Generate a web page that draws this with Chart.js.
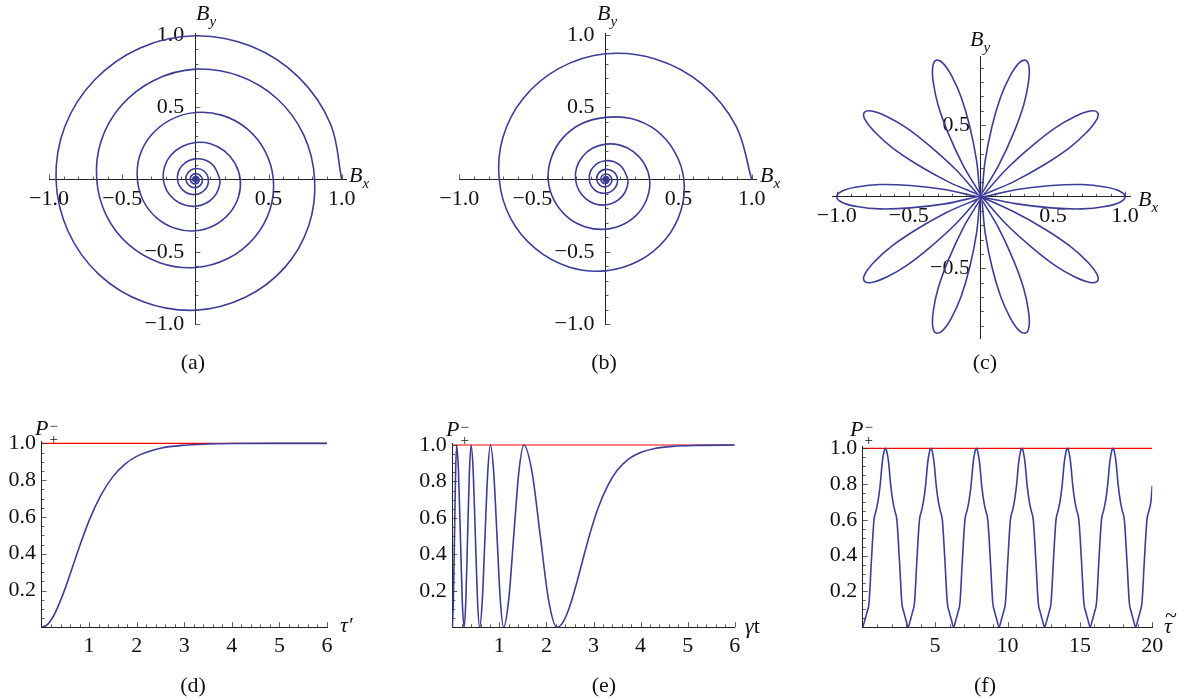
<!DOCTYPE html>
<html>
<head>
<meta charset="utf-8">
<script src="https://cdn.jsdelivr.net/npm/chart.js@4.4.0/dist/chart.umd.min.js"></script>
<style>
  body { margin: 0; background: #fff; }
  #fig { position: relative; width: 1190px; height: 700px; overflow: hidden;
         font-family: 'Liberation Serif', 'Times New Roman', serif; color: #111; }
  canvas { position: absolute; }
  .lbl { position: absolute; font-size: 22px; line-height: 22px; white-space: nowrap; }
  .it { font-style: italic; }
  .sub { font-size: 15px; position: relative; top: 6px; }
  .ss { display: inline-block; font-style: normal; font-size: 15px; line-height: 13px;
        vertical-align: -9px; margin-left: 1px; text-align: center; }
  .ss span { display: block; }
  .tl { position: relative; }
  .tl span { position: absolute; left: 1px; top: -9px; font-style: normal; }
  .cap { position: absolute; width: 80px; text-align: center; font-size: 22px; line-height: 22px; }
</style>
</head>
<body>
<div id="fig">
  <canvas id="ca" width="400" height="350" style="left:0;top:0"></canvas>
  <canvas id="cb" width="385" height="350" style="left:405px;top:0"></canvas>
  <canvas id="cc" width="400" height="370" style="left:790px;top:0"></canvas>
  <canvas id="cd" width="400" height="300" style="left:0;top:400px"></canvas>
  <canvas id="ce" width="400" height="300" style="left:400px;top:400px"></canvas>
  <canvas id="cf" width="390" height="300" style="left:800px;top:400px"></canvas>

  <div class="lbl it" style="left:196px;top:2px">B<span class="sub">y</span></div>
  <div class="lbl it" style="left:349px;top:164px">B<span class="sub">x</span></div>
  <div class="lbl it" style="left:597px;top:2px">B<span class="sub">y</span></div>
  <div class="lbl it" style="left:760px;top:164px">B<span class="sub">x</span></div>
  <div class="lbl it" style="left:970px;top:28px">B<span class="sub">y</span></div>
  <div class="lbl it" style="left:1138px;top:188px">B<span class="sub">x</span></div>

  <div class="lbl it" style="left:35px;top:417px">P<span class="ss"><span>&minus;</span><span>+</span></span></div>
  <div class="lbl it" style="left:446px;top:418px">P<span class="ss"><span>&minus;</span><span>+</span></span></div>
  <div class="lbl it" style="left:850px;top:418px">P<span class="ss"><span>&minus;</span><span>+</span></span></div>

  <div class="lbl it" style="left:340px;top:614px">&tau;&prime;</div>
  <div class="lbl" style="left:745px;top:615px"><span class="it">&gamma;</span>t</div>
  <div class="lbl it" style="left:1164px;top:615px"><span class="tl">&tau;<span>~</span></span></div>

  <div class="cap" style="left:153px;top:351px">(a)</div>
  <div class="cap" style="left:564px;top:351px">(b)</div>
  <div class="cap" style="left:945px;top:351px">(c)</div>
  <div class="cap" style="left:153px;top:674px">(d)</div>
  <div class="cap" style="left:564px;top:674px">(e)</div>
  <div class="cap" style="left:945px;top:674px">(f)</div>
</div>

<script>
// ---- data ----

// (a) spiral: every 22.5 deg for the outer turns, every 45 deg further in
const spiralA = [
  [1.0,0],[0.924,0.383],[0.707,0.707],[0.382,0.922],[0,0.995],[-0.377,0.911],[-0.689,0.689],[-0.891,0.369],
  [-0.952,0],[-0.869,-0.360],[-0.658,-0.658],[-0.351,-0.848],[0,-0.905],[0.338,-0.817],[0.610,-0.610],[0.774,-0.321],
  [0.815,0],[0.741,0.307],[0.559,0.559],[0.297,0.718],[0,0.764],[-0.284,0.686],[-0.509,0.509],[-0.644,0.267],
  [-0.674,0],[-0.607,-0.251],[-0.453,-0.453],[-0.239,-0.577],[0,-0.609],[0.226,-0.545],[0.403,-0.403],[0.509,-0.211],
  [0.533,0],[0.476,0.197],[0.352,0.352],[0.184,0.444],[0,0.464],[-0.171,0.413],[-0.304,0.304],[-0.382,0.158],
  [-0.396,0],[-0.356,-0.147],[-0.265,-0.265],[-0.140,-0.337],[0,-0.355],[0.131,-0.316],[0.233,-0.233],[0.294,-0.122],
  [0.307,0],[0.271,0.112],[0.198,0.198],[0.103,0.248],[0,0.256],[-0.094,0.227],[-0.168,0.168],[-0.211,0.087],
  [-0.219,0],[-0.193,-0.080],[-0.141,-0.141],[-0.073,-0.177],[0,-0.185],[0.069,-0.166],[0.124,-0.124],[0.158,-0.065],
  [0.167,0],[0.110,0.110],[0,0.143],[-0.093,0.093],[-0.122,0],[-0.079,-0.079],[0,-0.104],[0.068,-0.068],
  [0.089,0],[0.059,0.059],[0,0.076],[-0.049,0.049],[-0.065,0],[-0.042,-0.042],[0,-0.056],[0.037,-0.037],
  [0.048,0],[0.031,0.031],[0,0.041],[-0.027,0.027],[-0.035,0],[-0.023,-0.023],[0,-0.030],[0.020,-0.020],
  [0.026,0],[0.017,0.017],[0,0.022],[-0.014,0.014],[-0.019,0],[-0.012,-0.012],[0,-0.016],[0.011,-0.011],
  [0.014,0],[0.009,0.009],[0,0.012],[-0.008,0.008],[-0.010,0],[-0.006,-0.006],[0,-0.008],[0.005,-0.005],
  [0.006,0]
];

// (b) spiral
const spiralB = [
  [1.0,0],[0.893,0.370],[0.661,0.661],[0.345,0.833],[0,0.87],[-0.318,0.769],[-0.562,0.562],[-0.702,0.291],
  [-0.727,0],[-0.649,-0.269],[-0.479,-0.479],[-0.251,-0.605],[0,-0.632],[0.232,-0.561],[0.412,-0.412],[0.516,-0.214],
  [0.536,0],[0.471,0.195],[0.343,0.343],[0.175,0.422],[0,0.43],[-0.161,0.388],[-0.290,0.290],[-0.370,0.153],
  [-0.392,0],[-0.351,-0.145],[-0.260,-0.260],[-0.136,-0.328],[0,-0.344],[0.127,-0.308],[0.228,-0.228],[0.288,-0.119],
  [0.302,0],[0.265,0.110],[0.192,0.192],[0.099,0.238],[0,0.245],[-0.090,0.216],[-0.158,0.158],[-0.198,0.082],
  [-0.205,0],[-0.182,-0.075],[-0.134,-0.134],[-0.070,-0.169],[0,-0.176],[0.065,-0.156],[0.115,-0.115],[0.145,-0.060],
  [0.152,0],[0.099,0.099],[0,0.13],[-0.085,0.085],[-0.111,0],[-0.073,-0.073],[0,-0.095],[0.062,-0.062],
  [0.082,0],[0.054,0.054],[0,0.070],[-0.046,0.046],[-0.060,0],[-0.039,-0.039],[0,-0.051],[0.033,-0.033],
  [0.044,0],[0.029,0.029],[0,0.038],[-0.025,0.025],[-0.032,0],[-0.021,-0.021],[0,-0.028],[0.018,-0.018],
  [0.024,0],[0.016,0.016],[0,0.020],[-0.013,0.013],[-0.017,0],[-0.011,-0.011],[0,-0.015],[0.010,-0.010],
  [0.013,0],[0.008,0.008],[0,0.011],[-0.007,0.007],[-0.009,0],[-0.006,-0.006],[0,-0.0075],[0.005,-0.005],
  [0.0065,0]
];

// (c) ten-petal rose, traced petal by petal through the origin
const rose = [
  [0,0],
  [0.25,-0.05],[0.49,-0.078],[0.70,-0.085],[0.86,-0.068],[0.965,-0.038],[1.0,0],
  [0.965,0.038],[0.86,0.068],[0.70,0.085],[0.49,0.078],[0.25,0.05],
  [0,0],
  [0.232,0.107],[0.442,0.225],[0.616,0.343],[0.736,0.451],[0.803,0.537],[0.809,0.588],
  [0.758,0.598],[0.656,0.561],[0.516,0.480],[0.351,0.351],[0.173,0.188],
  [0,0],
  [0.125,0.222],[0.226,0.442],[0.297,0.640],[0.330,0.797],[0.334,0.906],[0.309,0.951],
  [0.262,0.930],[0.201,0.839],[0.136,0.692],[0.077,0.490],[0.030,0.253],
  [0,0],
  [-0.030,0.253],[-0.077,0.490],[-0.136,0.692],[-0.201,0.839],[-0.262,0.930],[-0.309,0.951],
  [-0.334,0.906],[-0.330,0.797],[-0.297,0.640],[-0.226,0.442],[-0.125,0.222],
  [0,0],
  [-0.173,0.188],[-0.351,0.351],[-0.516,0.480],[-0.656,0.561],[-0.758,0.598],[-0.809,0.588],
  [-0.803,0.537],[-0.736,0.451],[-0.616,0.343],[-0.442,0.225],[-0.232,0.107],
  [0,0],
  [-0.25,0.05],[-0.49,0.078],[-0.70,0.085],[-0.86,0.068],[-0.965,0.038],[-1.0,0],
  [-0.965,-0.038],[-0.86,-0.068],[-0.70,-0.085],[-0.49,-0.078],[-0.25,-0.05],
  [0,0],
  [-0.232,-0.107],[-0.442,-0.225],[-0.616,-0.343],[-0.736,-0.451],[-0.803,-0.537],[-0.809,-0.588],
  [-0.758,-0.598],[-0.656,-0.561],[-0.516,-0.480],[-0.351,-0.351],[-0.173,-0.188],
  [0,0],
  [-0.125,-0.222],[-0.226,-0.442],[-0.297,-0.640],[-0.330,-0.797],[-0.334,-0.906],[-0.309,-0.951],
  [-0.262,-0.930],[-0.201,-0.839],[-0.136,-0.692],[-0.077,-0.490],[-0.030,-0.253],
  [0,0],
  [0.030,-0.253],[0.077,-0.490],[0.136,-0.692],[0.201,-0.839],[0.262,-0.930],[0.309,-0.951],
  [0.334,-0.906],[0.330,-0.797],[0.297,-0.640],[0.226,-0.442],[0.125,-0.222],
  [0,0],
  [0.173,-0.188],[0.351,-0.351],[0.516,-0.480],[0.656,-0.561],[0.758,-0.598],[0.809,-0.588],
  [0.803,-0.537],[0.736,-0.451],[0.616,-0.343],[0.442,-0.225],[0.232,-0.107],
  [0,0]
];

// (d)
const dT = [0, 0.125, 0.25, 0.375, 0.5, 0.75, 1.0, 1.25, 1.5, 1.75, 2.0, 2.5, 3.0, 3.5, 4.0, 5.0, 6.0];
const dP = [0, 0.015, 0.06, 0.13, 0.213, 0.403, 0.58, 0.718, 0.819, 0.886, 0.929, 0.973, 0.99, 0.996, 0.999, 1.0, 1.0];

// (e)
const eT = [0, 0.023, 0.047, 0.07, 0.093, 0.132, 0.172, 0.211, 0.25, 0.288, 0.325, 0.363, 0.40,
  0.445, 0.49, 0.535, 0.58, 0.638, 0.695, 0.753, 0.81, 0.88, 0.95, 1.02, 1.09,
  1.198, 1.305, 1.413, 1.52, 1.695, 1.87, 2.045, 2.22,
  2.35, 2.5, 2.65, 2.8, 2.95, 3.1, 3.3, 3.5, 3.75, 4.0, 4.3, 4.7, 5.2, 6.0];
const eP = [0, 0.15, 0.5, 0.85, 1.0, 0.85, 0.5, 0.15, 0, 0.15, 0.5, 0.85, 1.0,
  0.85, 0.5, 0.15, 0, 0.15, 0.5, 0.85, 1.0, 0.85, 0.5, 0.15, 0,
  0.15, 0.5, 0.85, 1.0, 0.85, 0.5, 0.15, 0,
  0.027, 0.118, 0.25, 0.397, 0.536, 0.656, 0.776, 0.86, 0.924, 0.959, 0.981, 0.993, 0.998, 1.0];

// (f)
const fT = [
  0, 0.15, 0.30, 0.44, 0.60, 0.78, 0.92, 1.05, 1.20, 1.35, 1.47, 1.57, 1.67, 1.79, 1.94, 2.09, 2.22, 2.36, 2.54, 2.70, 2.84, 2.99,
  3.14, 3.29, 3.44, 3.58, 3.74, 3.92, 4.06, 4.19, 4.34, 4.49, 4.61, 4.71, 4.81, 4.93, 5.08, 5.23, 5.36, 5.50, 5.68, 5.84, 5.98, 6.13,
  6.28, 6.43, 6.58, 6.72, 6.88, 7.06, 7.20, 7.33, 7.48, 7.63, 7.75, 7.85, 7.95, 8.07, 8.22, 8.37, 8.50, 8.64, 8.82, 8.98, 9.12, 9.27,
  9.42, 9.57, 9.72, 9.86, 10.02, 10.20, 10.34, 10.47, 10.62, 10.77, 10.89, 10.99, 11.09, 11.21, 11.36, 11.51, 11.64, 11.78, 11.96, 12.12, 12.26, 12.41,
  12.57, 12.72, 12.87, 13.01, 13.17, 13.35, 13.49, 13.62, 13.77, 13.92, 14.04, 14.14, 14.24, 14.36, 14.51, 14.66, 14.79, 14.93, 15.11, 15.27, 15.41, 15.56,
  15.71, 15.86, 16.01, 16.15, 16.31, 16.49, 16.63, 16.76, 16.91, 17.06, 17.18, 17.28, 17.38, 17.50, 17.65, 17.80, 17.93, 18.07, 18.25, 18.41, 18.55, 18.70,
  18.85, 19.00, 19.15, 19.29, 19.45, 19.63, 19.77, 19.90, 20.0
];
const fP = [
  0, 0.04, 0.085, 0.14, 0.37, 0.60, 0.65, 0.70, 0.79, 0.92, 0.98, 1.0, 0.98, 0.92, 0.79, 0.70, 0.65, 0.60, 0.37, 0.14, 0.085, 0.04,
  0, 0.04, 0.085, 0.14, 0.37, 0.60, 0.65, 0.70, 0.79, 0.92, 0.98, 1.0, 0.98, 0.92, 0.79, 0.70, 0.65, 0.60, 0.37, 0.14, 0.085, 0.04,
  0, 0.04, 0.085, 0.14, 0.37, 0.60, 0.65, 0.70, 0.79, 0.92, 0.98, 1.0, 0.98, 0.92, 0.79, 0.70, 0.65, 0.60, 0.37, 0.14, 0.085, 0.04,
  0, 0.04, 0.085, 0.14, 0.37, 0.60, 0.65, 0.70, 0.79, 0.92, 0.98, 1.0, 0.98, 0.92, 0.79, 0.70, 0.65, 0.60, 0.37, 0.14, 0.085, 0.04,
  0, 0.04, 0.085, 0.14, 0.37, 0.60, 0.65, 0.70, 0.79, 0.92, 0.98, 1.0, 0.98, 0.92, 0.79, 0.70, 0.65, 0.60, 0.37, 0.14, 0.085, 0.04,
  0, 0.04, 0.085, 0.14, 0.37, 0.60, 0.65, 0.70, 0.79, 0.92, 0.98, 1.0, 0.98, 0.92, 0.79, 0.70, 0.65, 0.60, 0.37, 0.14, 0.085, 0.04,
  0, 0.04, 0.085, 0.14, 0.37, 0.60, 0.65, 0.70, 0.79
];

// red reference line P = 1
const limitD = [[0, 1], [6, 1]];
const limitE = [[0, 1], [6, 1]];
const limitF = [[0, 1], [20, 1]];

// ---- drawing ----
const BLUE = '#3d3d99';
const RED = '#ff0000';

const pairs = arr => arr.map(p => ({x: p[0], y: p[1]}));
const zipXY = (xs, ys) => xs.map((x, i) => ({x: x, y: ys[i]}));
const isMult = (v, step) => Math.abs(v / step - Math.round(v / step)) < 1e-6;
const minus = s => s.replace('-', '\u2212');

// small inward tick marks, Mathematica style
const tickMarks = {
  id: 'tickMarks',
  afterDraw(chart, args, opt) {
    const ctx = chart.ctx;
    const sx = chart.scales.x, sy = chart.scales.y;
    const ax = sx.getPixelForValue(0), ay = sy.getPixelForValue(0);
    ctx.save();
    ctx.strokeStyle = '#333';
    ctx.lineWidth = 0.8;
    ctx.beginPath();
    sx.ticks.forEach(t => {
      if (Math.abs(t.value) < 1e-9) return;
      const len = isMult(t.value, opt.xMajor) ? 5 : 3;
      const p = Math.round(sx.getPixelForValue(t.value)) + 0.5;
      ctx.moveTo(p, ay); ctx.lineTo(p, ay - len);
    });
    sy.ticks.forEach(t => {
      if (Math.abs(t.value) < 1e-9) return;
      const len = isMult(t.value, opt.yMajor) ? 5 : 3;
      const p = Math.round(sy.getPixelForValue(t.value)) + 0.5;
      ctx.moveTo(ax, p); ctx.lineTo(ax + len, p);
    });
    ctx.stroke();
    ctx.restore();
  }
};

function axis(dir, min, max, step, labelFn) {
  return {
    type: 'linear', min: min, max: max,
    position: dir === 'x' ? {y: 0} : {x: 0},
    grid: {display: false, drawTicks: false},
    border: {display: true, color: '#222', width: 1},
    ticks: {
      stepSize: step, includeBounds: false, autoSkip: false,
      maxRotation: 0, minRotation: 0, padding: 6, color: '#111',
      font: {family: 'Liberation Serif', size: 22},
      callback: labelFn
    }
  };
}

function makeChart(id, datasets, xAxis, yAxis, pad, marks) {
  return new Chart(document.getElementById(id), {
    type: 'scatter',
    data: {datasets: datasets},
    options: {
      responsive: false, animation: false, devicePixelRatio: 1,
      layout: {padding: pad},
      plugins: {legend: {display: false}, tooltip: {enabled: false}, tickMarks: marks},
      scales: {x: xAxis, y: yAxis}
    },
    plugins: [tickMarks]
  });
}

const curve = (data, extra) => Object.assign({
  data: data, showLine: true, pointRadius: 0, borderColor: BLUE, borderWidth: 1.6, fill: false
}, extra);
const redLine = data => ({data: pairs(data), showLine: true, pointRadius: 0, borderColor: RED, borderWidth: 1.2});

const halfLbl = v => (isMult(v, 0.5) && Math.abs(v) > 1e-9) ? minus(v.toFixed(1)) : '';
const halfLblY = v => (isMult(v, 0.5) && Math.abs(v) > 1e-9) ? minus(v.toFixed(1)) + '  ' : '';
const pLbl = v => (isMult(v, 0.2) && v > 1e-9) ? v.toFixed(1) + ' ' : '';
const intLbl = step => (v => (isMult(v, step) && v > 1e-9) ? String(Math.round(v)) : '');

makeChart('ca', [curve(pairs(spiralA), {tension: 0.36})],
  axis('x', -1.0, 1.03, 0.1, halfLbl), axis('y', -1.0, 1.01, 0.1, halfLblY),
  {left: 49, top: 33.6, right: 53.9, bottom: 26}, {xMajor: 0.5, yMajor: 0.5});

makeChart('cb', [curve(pairs(spiralB), {tension: 0.36})],
  axis('x', -1.0, 1.03, 0.1, halfLbl), axis('y', -1.0, 1.01, 0.1, halfLblY),
  {left: 54.3, top: 33.6, right: 33.9, bottom: 26}, {xMajor: 0.5, yMajor: 0.5});

makeChart('cc', [curve(pairs(rose), {tension: 0.4})],
  axis('x', -1.03, 1.04, 0.1, halfLbl), axis('y', -0.99, 0.98, 0.1, halfLblY),
  {left: 42.4, top: 56.2, right: 59.2, bottom: 31.3}, {xMajor: 0.5, yMajor: 0.5});

makeChart('cd', [curve(zipXY(dT, dP), {cubicInterpolationMode: 'monotone'}), redLine(limitD)],
  axis('x', 0, 6, 0.2, intLbl(1)), axis('y', 0, 1.01, 0.05, pLbl),
  {left: 41.5, top: 41.5, right: 73, bottom: 72.7}, {xMajor: 1, yMajor: 0.2});

makeChart('ce', [curve(zipXY(eT, eP), {cubicInterpolationMode: 'monotone'}), redLine(limitE)],
  axis('x', 0, 6, 0.2, intLbl(1)), axis('y', 0, 1.01, 0.05, pLbl),
  {left: 52.3, top: 43.2, right: 65.3, bottom: 72.7}, {xMajor: 1, yMajor: 0.2});

makeChart('cf', [curve(zipXY(fT, fP), {cubicInterpolationMode: 'monotone'}), redLine(limitF)],
  axis('x', 0, 20, 1, intLbl(5)), axis('y', 0, 1.01, 0.05, pLbl),
  {left: 62.7, top: 46.5, right: 37.7, bottom: 72.7}, {xMajor: 5, yMajor: 0.2});
</script>
</body>
</html>
